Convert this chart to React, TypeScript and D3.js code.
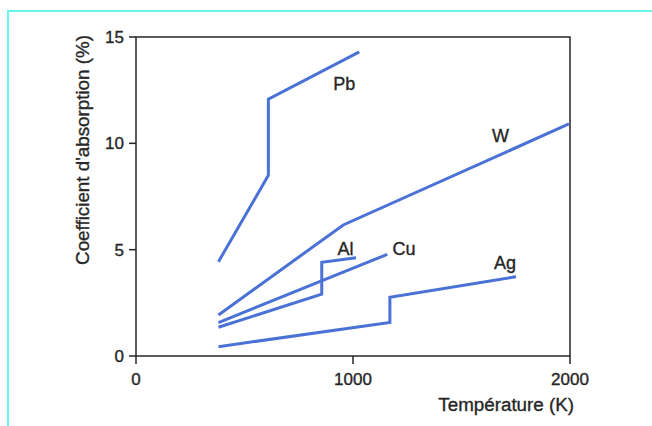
import React from 'react';
import * as d3 from 'd3';

// temperature (K) and absorption (%)
const pbT = [380, 610, 610, 1029];
const pbA = [4.43, 8.5, 12.08, 14.3];
const wT = [380, 955, 1995];
const wA = [1.93, 6.16, 10.91];
const alT = [380, 856, 856, 1014];
const alA = [1.35, 2.91, 4.41, 4.62];
const cuT = [380, 1158];
const cuA = [1.57, 4.78];
const agT = [380, 1170, 1170, 1751];
const agA = [0.44, 1.58, 2.76, 3.73];

const metals = ['Pb', 'W', 'Al', 'Cu', 'Ag'];
// label anchor in data units
const labelT = [960, 1680, 965, 1235, 1700];
const labelA = [12.8, 10.35, 5.05, 5.05, 4.4];

const xTicks = [0, 1000, 2000];
const yTicks = [0, 5, 10, 15];

const W = 652;
const H = 426;
const margin = { top: 37, right: 82, bottom: 70, left: 136 };

export default function App() {
  const x = d3.scaleLinear().domain([0, 2000]).range([margin.left, W - margin.right]);
  const y = d3.scaleLinear().domain([0, 15]).range([H - margin.bottom, margin.top]);

  const series = [
    pbT.map((t, i) => [t, pbA[i]]),
    wT.map((t, i) => [t, wA[i]]),
    alT.map((t, i) => [t, alA[i]]),
    cuT.map((t, i) => [t, cuA[i]]),
    agT.map((t, i) => [t, agA[i]]),
  ];

  const line = d3.line<number[]>()
    .x(d => x(d[0]))
    .y(d => y(d[1]));

  const font = '"Liberation Sans", Arial, Helvetica, sans-serif';
  const ink = '#262626';
  const blue = '#4a72d6';
  // a hairline stroke thickens the glyphs a bit, the scan is heavier than plain Arial
  const txt = { fill: ink, stroke: ink, strokeWidth: 0.35 };

  return (
    <svg width={W} height={H} style={{ position: 'absolute', left: 0, top: 0, background: '#fff' }} fontFamily={font}>
      {/* cyan page border */}
      <line x1={8} x2={W} y1={11} y2={11} stroke="#66f5f5" strokeWidth={2} />
      <line x1={8} x2={8} y1={10} y2={H} stroke="#66f5f5" strokeWidth={2} />

      {/* frame */}
      <path
        d={`M${x(0)},${y(15)}H${x(2000)}V${y(0)}H${x(0)}Z`}
        fill="none" stroke={ink} strokeWidth={1.5} />

      {yTicks.map(t => (
        <g key={'y' + t}>
          <line x1={x(0) - 7} x2={x(0)} y1={y(t)} y2={y(t)} stroke={ink} strokeWidth={1.5} />
          <text x={x(0) - 12} y={y(t)} dy="0.35em" textAnchor="end" fontSize={17} {...txt}>{t}</text>
        </g>
      ))}
      {xTicks.map(t => (
        <g key={'x' + t}>
          <line x1={x(t)} x2={x(t)} y1={y(0)} y2={y(0) + 8} stroke={ink} strokeWidth={1.5} />
          <text x={x(t)} y={y(0) + 29} textAnchor="middle" fontSize={17} {...txt}>{t}</text>
        </g>
      ))}

      <text x={x(2000) + 4} y={411} textAnchor="end" fontSize={18.8} {...txt}>Température (K)</text>
      <text transform={`translate(89,150) rotate(-90)`} textAnchor="middle" fontSize={18.8} {...txt}>
        Coefficient d'absorption (%)
      </text>

      {series.map((s, i) => (
        <path key={metals[i]} d={line(s) || ''} fill="none" stroke={blue} strokeWidth={3} strokeLinejoin="miter" />
      ))}

      {metals.map((m, i) => (
        <text key={'l' + m} x={x(labelT[i])} y={y(labelA[i])} dy="0.35em" textAnchor="middle" fontSize={18} {...txt}>{m}</text>
      ))}
    </svg>
  );
}
